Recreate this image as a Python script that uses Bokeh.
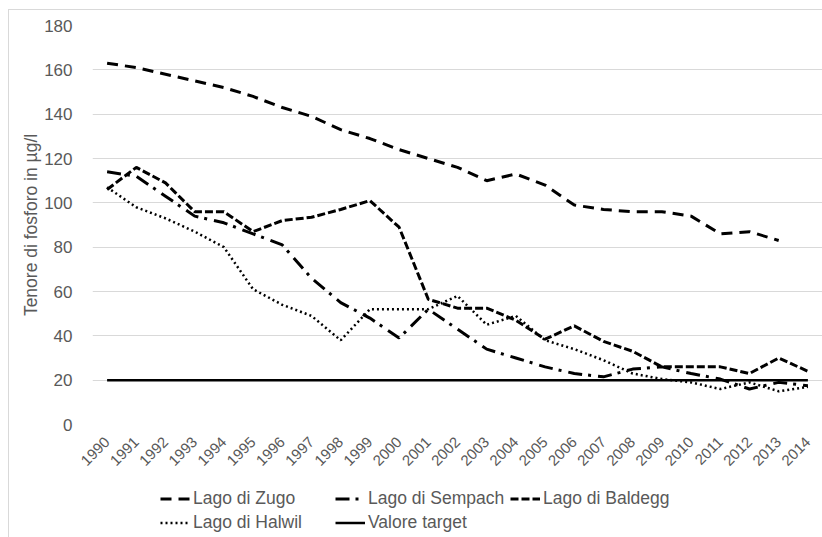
import math
from bokeh.plotting import figure
from bokeh.layouts import column
from bokeh.models import Legend, LegendItem, FactorRange, Range1d, FixedTicker
from bokeh.embed import file_html
from bokeh.resources import INLINE

years = [str(y) for y in range(1990, 2015)]
zugo = [163, 161, 158, 155, 152, 148, 143, 139, 133, 129, 124, 120, 116, 110,
        113, 108, 99, 97, 96, 96, 94, 86, 87, 83]
sempach = [114, 112, 103, 94, 91, 86, 81, 66, 55, 48, 39, 52, 43, 34, 30, 26,
           23, 21.5, 25, 26, 23, 20.5, 16, 19, 17.5]
baldegg = [106, 116, 109, 96, 96, 87, 92, 93.5, 97, 101, 89, 56.5, 52.5, 52.5,
           47, 38.5, 44.5, 37.5, 33, 26, 26, 26, 23, 30, 24]
halwil = [107, 98, 93, 87, 80, 61, 54, 49, 38, 52, 52, 52, 58, 45, 49, 38, 34,
          29, 23, 20.5, 19, 16, 19, 15, 17]
target = [20] * len(years)
y_ticks = [0, 20, 40, 60, 80, 100, 120, 140, 160, 180]
series_names = ["Lago di Zugo", "Lago di Sempach", "Lago di Baldegg",
                "Lago di Halwil", "Valore target"]

FONT = "Liberation Sans"
GRAY = "#595959"
STYLES = [dict(line_width=3, line_dash="11 7"),
          dict(line_width=3, line_dash="14 6 3 7"),
          dict(line_width=3, line_dash="8 3"),
          dict(line_width=2.5, line_dash="2 3"),
          dict(line_width=2.5, line_dash="solid")]

p = figure(x_range=FactorRange(*years, range_padding=0), y_range=Range1d(0, 180),
           width=813, height=470, output_backend="svg", toolbar_location=None,
           min_border_left=83, min_border_right=0, min_border_top=15,
           min_border_bottom=56)
p.outline_line_color = None

series = [(years[:len(zugo)], zugo), (years, sempach), (years, baldegg),
          (years, halwil), (years, target)]
for (xs, ys), st in zip(series, STYLES):
    p.line(xs, ys, line_color="black", **st)

p.xgrid.visible = False
p.ygrid.grid_line_color = "#d9d9d9"
p.ygrid.grid_line_width = 1

p.yaxis.ticker = FixedTicker(ticks=y_ticks)
for ax in (p.xaxis, p.yaxis):
    ax.axis_line_color = None
    ax.major_tick_line_color = None
    ax.minor_tick_line_color = None
    ax.major_label_text_color = GRAY
    ax.major_label_text_font = FONT
    ax.axis_label_text_color = GRAY
    ax.axis_label_text_font = FONT
    ax.axis_label_text_font_style = "normal"

p.yaxis.major_label_text_font_size = "17px"
p.yaxis.major_label_standoff = 14
p.yaxis.axis_label = "Tenore di fosforo in µg/l"
p.yaxis.axis_label_text_font_size = "17.5px"
p.yaxis.axis_label_standoff = 0

p.xaxis.major_label_text_font_size = "15px"
p.xaxis.major_label_orientation = math.pi / 4
p.xaxis.major_label_standoff = 9

# legend figure below the chart (its plotted samples lie outside its ranges)
lg = figure(width=813, height=57, output_backend="svg", toolbar_location=None,
            x_axis_type=None, y_axis_type=None, min_border=0,
            x_range=Range1d(0, 1), y_range=Range1d(0, 1))
lg.outline_line_color = None
lg.grid.visible = False
items = []
for name, st in zip(series_names, STYLES):
    r = lg.line([5, 6], [5, 6], line_color="black", **st)
    items.append(LegendItem(label=name, renderers=[r]))

legend = Legend(items=items, location=(68, 4), orientation="horizontal", ncols=3)
legend.padding = 0
legend.margin = 0
legend.spacing = 3
legend.glyph_width = 30
legend.glyph_height = 21
legend.label_height = 21
legend.label_width = 139
legend.label_standoff = 3
legend.label_text_font = FONT
legend.label_text_font_size = "17.5px"
legend.label_text_color = GRAY
legend.background_fill_alpha = 0
legend.border_line_color = None
lg.add_layout(legend)

layout = column(p, lg, spacing=0)
layout.styles = {"margin-left": "8px", "margin-top": "9px",
                 "border-left": "1px solid #d9d9d9",
                 "border-top": "1px solid #d9d9d9"}

open("out.html", "w").write(file_html(layout, INLINE))
